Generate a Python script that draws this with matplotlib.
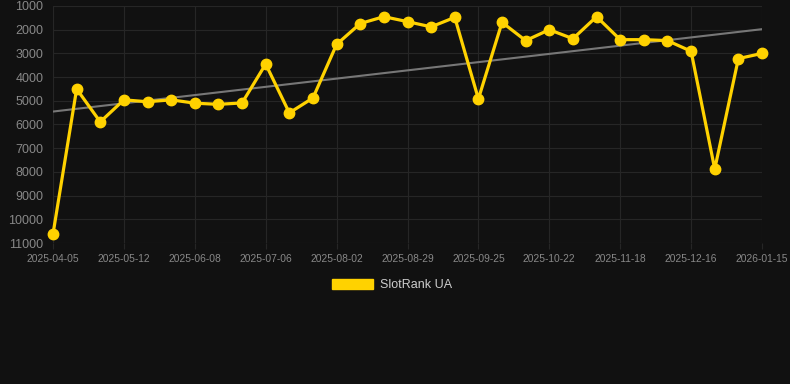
import matplotlib.pyplot as plt
import numpy as np

plt.rcParams['font.family'] = ['Liberation Sans', 'DejaVu Sans']

tick_dates = ['2025-04-05', '2025-05-12', '2025-06-08', '2025-07-06', '2025-08-02',
              '2025-08-29', '2025-09-25', '2025-10-22', '2025-11-18', '2025-12-16',
              '2026-01-15']
ranks = [10620, 4500, 5890, 4960, 5040, 4960, 5100, 5150, 5090, 3450,
         5510, 4880, 2620, 1740, 1450, 1660, 1880, 1480, 4920, 1690,
         2460, 2000, 2380, 1450, 2420, 2420, 2460, 2910, 7880, 3220,
         3000]
yticks = [1000, 2000, 3000, 4000, 5000, 6000, 7000, 8000, 9000, 10000, 11000]

bg = '#111111'
x = np.arange(len(ranks))

fig = plt.figure(figsize=(7.9, 3.84), dpi=100, facecolor=bg)
ax = fig.add_axes([53/790, 1-243/384, (762-53)/790, (243-6)/384], facecolor=bg)

# trend line (least squares over the ranks)
k, b = np.polyfit(x, ranks, 1)
ax.plot(x, k*x + b, color='#777777', lw=1.5, zorder=2)

ax.plot(x, ranks, color='#FFD200', lw=2.3, marker='o', ms=7.5,
        markerfacecolor='#FFD200', markeredgecolor='#FFD200', zorder=3,
        label='SlotRank UA', clip_on=False)

ax.set_xlim(0, len(ranks)-1)
ax.set_ylim(11000, 1000)
ax.set_yticks(yticks)
ax.set_xticks(x[::3])
ax.set_xticklabels(tick_dates)

ax.grid(True, color='#262626', lw=0.8)
for s in ax.spines.values():
    s.set_visible(False)
ax.tick_params(axis='y', colors='#888888', labelsize=9, length=0, pad=7)
ax.tick_params(axis='x', colors='#262626', labelcolor='#888888', labelsize=7.4, length=4, pad=4)

leg = fig.legend(handles=[plt.Rectangle((0, 0), 1, 1, color='#FFD200')], labels=['SlotRank UA'],
                 loc='center', bbox_to_anchor=(392/790, 1-285/384), frameon=False,
                 handlelength=3.3, handleheight=0.9, fontsize=9, labelcolor='#cccccc',
                 handletextpad=0.5)

fig.savefig('out.png', dpi=100, facecolor=bg)
